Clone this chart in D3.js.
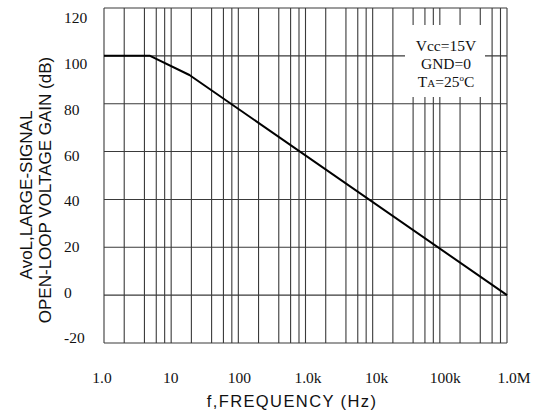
<!DOCTYPE html>
<html>
<head>
<meta charset="utf-8">
<script src="https://cdn.jsdelivr.net/npm/d3@7"></script>
<style>
  html, body { margin: 0; padding: 0; background: #fff; }
  svg { display: block; }
</style>
</head>
<body>
<svg id="chart" width="540" height="412"></svg>
<script>
// ---- data ----
const freqHz  = [1, 4.85, 18.7, 1e6];
const gainDb  = [100, 100, 92, 0];
const xTickValues = [1, 10, 100, 1e3, 1e4, 1e5, 1e6];
const xTickLabels = ["1.0", "10", "100", "1.0k", "10k", "100k", "1.0M"];
const yTickValues = [-20, 0, 20, 40, 60, 80, 100, 120];
const yTickLabels = ["-20", "0", "20", "40", "60", "80", "100", "120"];
const minorMults = [2, 4, 6, 8];
const noteLines = ["Vcc=15V", "GND=0", "TA=25°C"];

const svg = d3.select("#chart");
svg.append("rect").attr("width", 540).attr("height", 412).attr("fill", "#fff");

const x = d3.scaleLog().domain([1, 1e6]).range([104, 507]);
const y = d3.scaleLinear().domain([-20, 120]).range([343, 8]);
// label scales (labels in the reference drift slightly from grid lines)
const xl = d3.scaleLog().domain([1, 1e6]).range([102, 514]);
const yl = d3.scaleLinear().domain([-20, 120]).range([338, 18]);

const gridColor = "#3a3a3a";
const g = svg.append("g");

// vertical grid lines: decades + 2,4,6,8 multiples
const vLines = [];
for (let d = 1; d <= 1e6; d *= 10) {
  vLines.push(d);
  if (d < 1e6) minorMults.forEach(m => vLines.push(d * m));
}
g.selectAll("line.v").data(vLines).enter().append("line")
  .attr("x1", d => x(d)).attr("x2", d => x(d))
  .attr("y1", y(120)).attr("y2", y(-20))
  .attr("stroke", gridColor).attr("stroke-width", 1.1);

g.selectAll("line.h").data(yTickValues).enter().append("line")
  .attr("x1", x(1)).attr("x2", x(1e6))
  .attr("y1", d => y(d)).attr("y2", d => y(d))
  .attr("stroke", gridColor).attr("stroke-width", 1.1);

// note box (white background over grid)
const box = svg.append("g");
box.append("rect").attr("x", 405).attr("y", 25).attr("width", 80).attr("height", 72).attr("fill", "#fff");
const noteFont = "'Liberation Serif', 'Times New Roman', serif";
box.append("text").attr("x", 446).attr("y", 51).attr("text-anchor", "middle")
  .attr("font-family", noteFont).attr("font-size", 15.5).attr("fill", "#111").text(noteLines[0]);
box.append("text").attr("x", 446).attr("y", 69).attr("text-anchor", "middle")
  .attr("font-family", noteFont).attr("font-size", 15.5).attr("fill", "#111").text(noteLines[1]);
const t3 = box.append("text").attr("x", 446).attr("y", 87).attr("text-anchor", "middle")
  .attr("font-family", noteFont).attr("font-size", 15.5).attr("fill", "#111");
t3.append("tspan").text("T");
t3.append("tspan").attr("font-size", 11).text("A");
t3.append("tspan").text("=25");
t3.append("tspan").attr("font-size", 9).attr("dy", -6).text("o");
t3.append("tspan").attr("dy", 6).text("C");

// curve
const line = d3.line().x(d => x(d[0])).y(d => y(d[1]));
svg.append("path").datum(freqHz.map((f, i) => [f, gainDb[i]]))
  .attr("d", line).attr("fill", "none").attr("stroke", "#000")
  .attr("stroke-width", 2).attr("stroke-linejoin", "round");

// tick labels
const tickFont = "'Liberation Serif', 'Times New Roman', serif";
svg.selectAll("text.xt").data(xTickValues).enter().append("text")
  .attr("x", d => xl(d)).attr("y", 383).attr("text-anchor", "middle")
  .attr("font-family", tickFont).attr("font-size", 15.5).attr("fill", "#111")
  .text((d, i) => xTickLabels[i]);
svg.selectAll("text.yt").data(yTickValues).enter().append("text")
  .attr("x", 64).attr("y", d => yl(d)).attr("dy", "0.35em").attr("text-anchor", "start")
  .attr("font-family", tickFont).attr("font-size", 15.5).attr("fill", "#111")
  .text((d, i) => yTickLabels[i]);

// axis titles
const titleFont = "'Liberation Sans', Arial, sans-serif";
svg.append("text").attr("x", 292).attr("y", 407).attr("text-anchor", "middle")
  .attr("font-family", titleFont).attr("font-size", 16.5).attr("letter-spacing", 1.4)
  .attr("fill", "#111").text("f,FREQUENCY  (Hz)");
svg.append("text").attr("transform", "translate(32,195) rotate(-90)").attr("text-anchor", "middle")
  .attr("font-family", titleFont).attr("font-size", 17).attr("fill", "#111")
  .text("AvoL,LARGE-SIGNAL");
svg.append("text").attr("transform", "translate(51,190) rotate(-90)").attr("text-anchor", "middle")
  .attr("font-family", titleFont).attr("font-size", 17).attr("fill", "#111")
  .text("OPEN-LOOP VOLTAGE GAIN (dB)");
</script>
</body>
</html>
